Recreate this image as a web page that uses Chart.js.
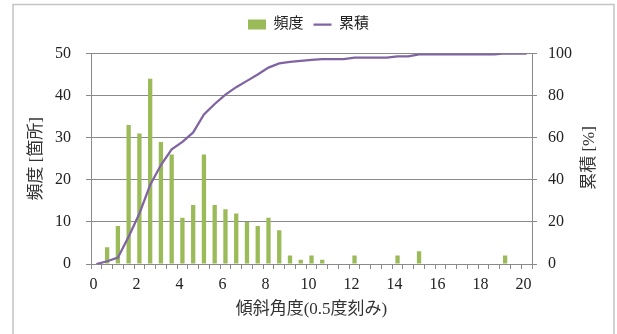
<!DOCTYPE html>
<html lang="ja">
<head>
  <meta charset="UTF-8">
  <title>傾斜角度の頻度分布</title>
  <script src="https://cdn.jsdelivr.net/npm/chart.js"></script>
  <style>
    html, body { margin: 0; padding: 0; background: #fff; }
    #chartBox { width: 617px; height: 334px; }
  </style>
</head>
<body>
  <div id="chartBox">
    <canvas id="kyoushaChart" width="617" height="334"></canvas>
  </div>
  <script>
    // 傾斜角度 (0.5度刻み)
    const angles = [0, 0.5, 1, 1.5, 2, 2.5, 3, 3.5, 4, 4.5, 5, 5.5, 6, 6.5, 7, 7.5, 8, 8.5, 9, 9.5,
                    10, 10.5, 11, 11.5, 12, 12.5, 13, 13.5, 14, 14.5, 15, 15.5, 16, 16.5, 17, 17.5, 18, 18.5, 19, 19.5, 20];
    // 頻度 [箇所]
    const frequency = [0, 4, 9, 33, 31, 44, 29, 26, 11, 14, 26, 14, 13, 12, 10, 9, 11, 8, 2, 1,
                       2, 1, 0, 0, 2, 0, 0, 0, 2, 0, 3, 0, 0, 0, 0, 0, 0, 0, 2, 0, 0];
    // 累積 [%]
    const cumulative = [0, 1.3, 3, 13, 24, 37.5, 47, 54.5, 58, 62.5, 71, 76, 80.5, 84, 87, 90, 93.3, 95.3, 96, 96.5,
                        97, 97.3, 97.3, 97.3, 98, 98, 98, 98, 98.6, 98.6, 99.6, 99.6, 99.6, 99.6, 99.6, 99.6, 99.6, 99.6, 100, 100, 100];
    const xTickLabels = ['0', '2', '4', '6', '8', '10', '12', '14', '16', '18', '20'];

    const fontFam = '"Liberation Serif", "Noto Sans CJK JP", serif';
    const gridGray = '#8a8a8a';

    // 凡例の下に余白を足す
    const legendGap = {
      id: 'legendGap',
      afterInit(chart) {
        const origFit = chart.legend.fit;
        chart.legend.fit = function () {
          origFit.call(this);
          this.height += 11.5;
        };
      }
    };

    // 外枠と右軸タイトル
    const extraDraw = {
      id: 'extraDraw',
      afterDraw(chart) {
        const ctx = chart.ctx;
        ctx.save();
        ctx.strokeStyle = '#c4c4c4';
        ctx.lineWidth = 1.5;
        ctx.strokeRect(13, 4.5, 601, 400);
        ctx.translate(590, 158);
        ctx.rotate(-Math.PI / 2);
        ctx.font = '17px ' + fontFam;
        ctx.fillStyle = '#333';
        ctx.textAlign = 'center';
        ctx.textBaseline = 'middle';
        ctx.fillText('累積 [%]', 0, 0);
        ctx.restore();
      }
    };

    new Chart(document.getElementById('kyoushaChart').getContext('2d'), {
      type: 'bar',
      data: {
        labels: angles,
        datasets: [{
          label: '頻度',
          data: frequency,
          backgroundColor: '#9bbb59',
          borderWidth: 0,
          barPercentage: 0.4,
          categoryPercentage: 1,
          yAxisID: 'y',
          order: 2,
          pointStyle: 'rect'
        }, {
          type: 'line',
          label: '累積',
          data: cumulative,
          borderColor: '#8064a2',
          backgroundColor: '#8064a2',
          borderWidth: 2.25,
          pointRadius: 0,
          tension: 0,
          yAxisID: 'y1',
          order: 1,
          pointStyle: 'line'
        }]
      },
      options: {
        responsive: false,
        animation: false,
        devicePixelRatio: 1,
        layout: { padding: { top: 7, left: 0, right: 0, bottom: 0 } },
        plugins: {
          tooltip: { enabled: false },
          legend: {
            position: 'top',
            labels: {
              usePointStyle: true,
              pointStyleWidth: 18,
              boxHeight: 10,
              padding: 10,
              color: '#222',
              font: { family: fontFam, size: 15 },
              sort: (a, b) => a.datasetIndex - b.datasetIndex
            }
          }
        },
        scales: {
          x: {
            grid: { drawOnChartArea: false, drawTicks: true, tickLength: 5, color: gridGray, offset: true },
            border: { display: true, color: gridGray },
            ticks: {
              autoSkip: false,
              maxRotation: 0,
              padding: 6,
              labelOffset: -3,
              color: '#222',
              font: { family: fontFam, size: 16 },
              callback: (v, i) => (i % 4 === 0 ? xTickLabels[i / 4] : '')
            },
            title: {
              display: true,
              text: '傾斜角度(0.5度刻み)',
              color: '#333',
              font: { family: fontFam, size: 17 },
              padding: { top: 0, bottom: 14 }
            },
            afterFit: (s) => { s.height = 70; }
          },
          y: {
            position: 'left',
            min: 0, max: 50,
            grid: { color: gridGray, tickLength: 5 },
            border: { display: true, color: gridGray },
            ticks: { stepSize: 10, padding: 15, color: '#222', font: { family: fontFam, size: 16 } },
            title: {
              display: true,
              text: '頻度 [箇所]',
              color: '#333',
              font: { family: fontFam, size: 17 },
              padding: { top: 26, bottom: 0 }
            },
            afterFit: (s) => { s.width = 91; }
          },
          y1: {
            position: 'right',
            min: 0, max: 100,
            grid: { drawOnChartArea: false, color: gridGray, tickLength: 5 },
            border: { display: true, color: gridGray },
            ticks: { stepSize: 20, padding: 11, color: '#222', font: { family: fontFam, size: 16 } },
            afterFit: (s) => { s.width = 85; }
          }
        }
      },
      plugins: [legendGap, extraDraw]
    });
  </script>
</body>
</html>
